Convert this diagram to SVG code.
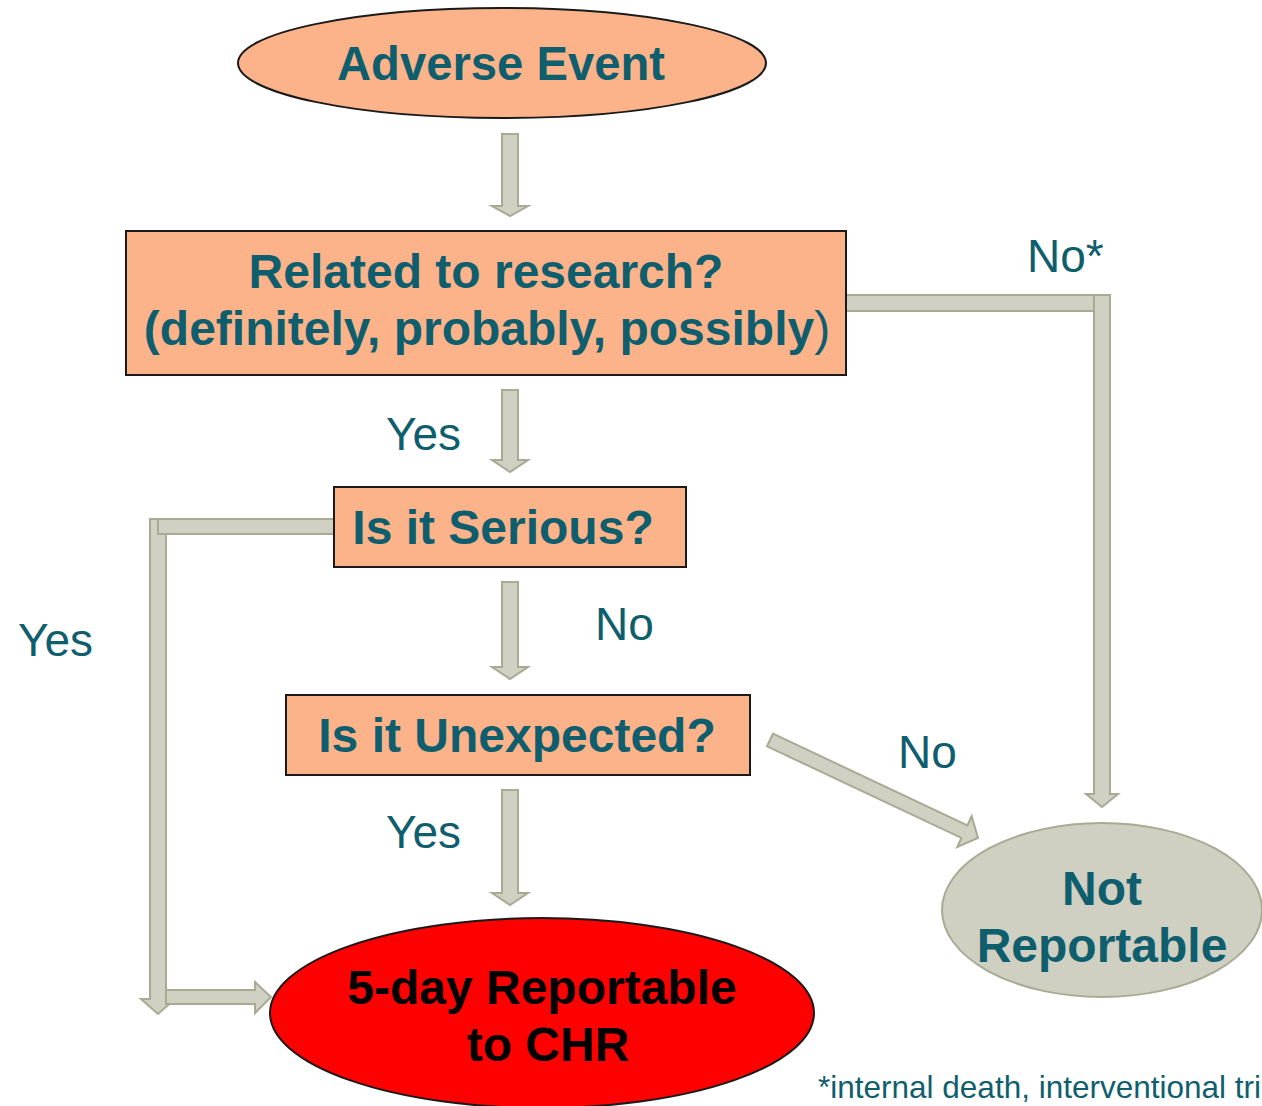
<svg xmlns="http://www.w3.org/2000/svg" width="1262" height="1106" viewBox="0 0 1262 1106">
<style>
.box{fill:#FDB38A;stroke:#1A1A1A;stroke-width:2}
.t{font-family:"Liberation Sans",Arial,sans-serif;font-weight:bold;font-size:48px;fill:#0F5E6E;text-anchor:middle}
.lbl{font-family:"Liberation Sans",Arial,sans-serif;font-size:46px;fill:#0F5E6E}
.arr{fill:#D0D0C3;stroke:#A9AA93;stroke-width:2;stroke-linejoin:miter}
</style>
<rect width="1262" height="1106" fill="#FFFFFF"/>
<g id="connectors">
  <polygon class="arr" points="502,134 518,134 518,206 528,206 510,216 492,206 502,206"/>
  <polygon class="arr" points="502,390 518,390 518,460 528,460 510,472 492,460 502,460"/>
  <polygon class="arr" points="502,582 518,582 518,667 528,667 510,679 492,667 502,667"/>
  <polygon class="arr" points="502,790 518,790 518,893 528,893 510,905 492,893 502,893"/>
  <polygon class="arr" points="1094,295 1110,295 1110,794 1118,794 1102,807 1086,794 1094,794"/>
  <rect class="arr" x="846" y="295" width="248" height="16"/>
  <polygon class="arr" points="150,519 166,519 166,999 175,999 158,1014 141,999 150,999"/>
  <rect class="arr" x="158" y="519" width="176" height="15"/>
  <polygon class="arr" points="166,990 255,990 255,982 271,997 255,1013 255,1004 166,1004"/>
  <polygon class="arr" points="773,733.7 967.4,825.3 971.6,816.2 978,838 957.2,847 961.4,837.9 767,746.3"/>
</g>
<g id="adverse-event">
  <ellipse cx="502" cy="63" rx="264" ry="55" class="box"/>
  <text x="501" y="80" class="t" textLength="328" lengthAdjust="spacingAndGlyphs">Adverse Event</text>
</g>
<g id="related">
  <rect x="126" y="231" width="720" height="144" class="box"/>
  <text x="486" y="288" class="t">Related to research?</text>
  <text x="487" y="345" class="t">(definitely, probably, possibly<tspan font-weight="normal">)</tspan></text>
</g>
<g id="serious">
  <rect x="334" y="487" width="352" height="80" class="box"/>
  <text x="503" y="544" class="t">Is it Serious?</text>
</g>
<g id="unexpected">
  <rect x="286" y="695" width="464" height="80" class="box"/>
  <text x="517" y="752" class="t">Is it Unexpected?</text>
</g>
<g id="five-day">
  <ellipse cx="542" cy="1013" rx="272" ry="95" fill="#FF0000" stroke="#1A1A1A" stroke-width="2"/>
  <text x="542" y="1004" class="t" style="fill:#000000">5-day Reportable</text>
  <text x="548" y="1061" class="t" style="fill:#000000">to CHR</text>
</g>
<g id="not-reportable">
  <ellipse cx="1102" cy="910" rx="160" ry="87" fill="#CFCFC2" stroke="#A9AA93" stroke-width="2"/>
  <text x="1102" y="905" class="t">Not</text>
  <text x="1102" y="962" class="t">Reportable</text>
</g>
<g id="labels">
  <text x="1027" y="272" class="lbl">No*</text>
  <text x="386" y="450" class="lbl">Yes</text>
  <text x="18" y="656" class="lbl">Yes</text>
  <text x="595" y="640" class="lbl">No</text>
  <text x="898" y="768" class="lbl">No</text>
  <text x="386" y="848" class="lbl">Yes</text>
  <text x="818" y="1098" font-family="Liberation Sans, Arial, sans-serif" font-size="31.5" fill="#0F5E6E">*internal death, interventional tri</text>
</g>
</svg>
